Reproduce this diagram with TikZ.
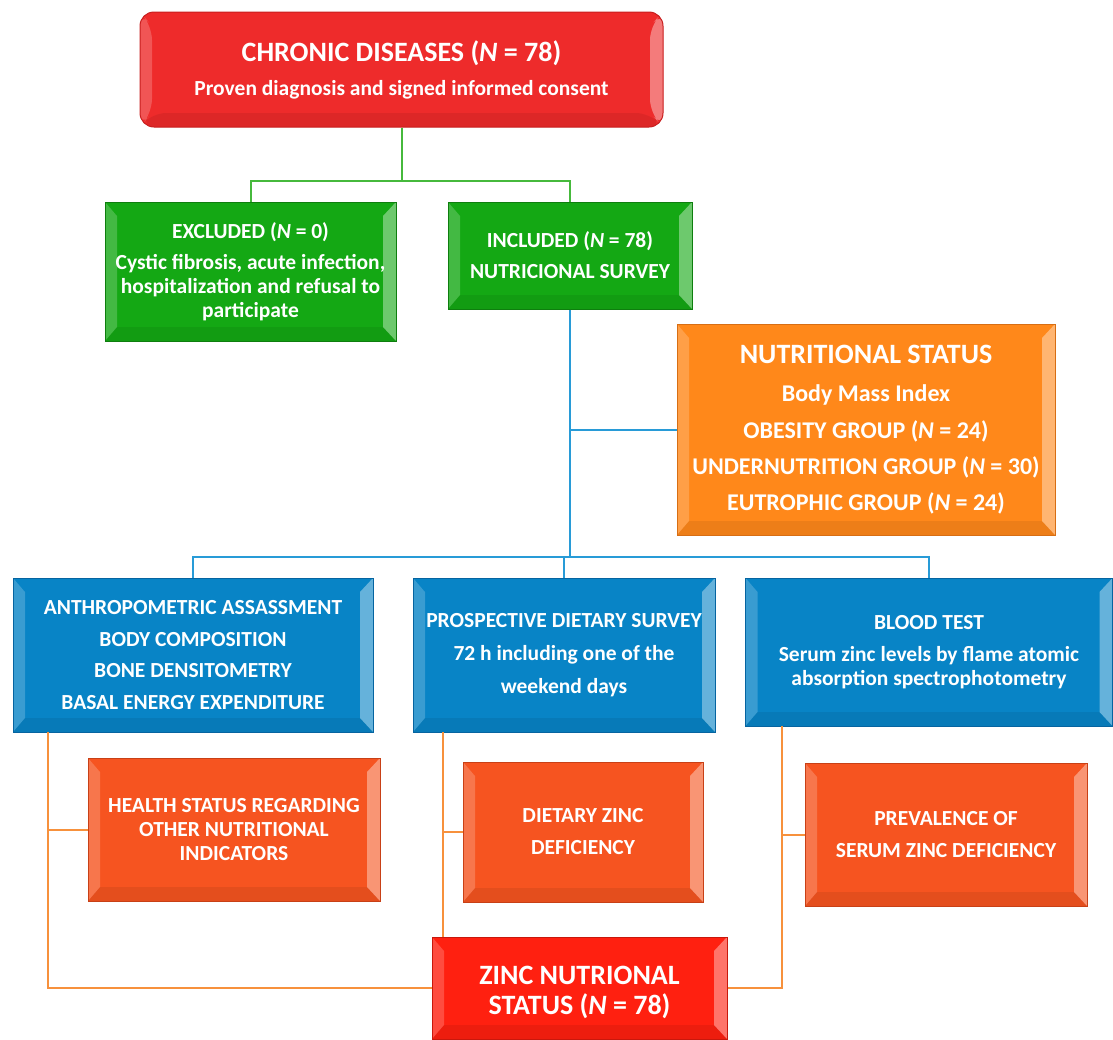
\documentclass[tikz,border=0pt]{standalone}
\usepackage{fontspec}
\setmainfont{Carlito}
\usetikzlibrary{calc}
\definecolor{topred}{RGB}{238,43,43}
\definecolor{topredd}{RGB}{200,30,30}
\definecolor{boxgreen}{RGB}{20,168,20}
\definecolor{boxgreend}{RGB}{14,126,14}
\definecolor{boxorange}{RGB}{255,136,26}
\definecolor{boxoranged}{RGB}{215,110,20}
\definecolor{boxblue}{RGB}{8,132,198}
\definecolor{boxblued}{RGB}{6,100,160}
\definecolor{boxro}{RGB}{246,84,32}
\definecolor{boxrod}{RGB}{200,64,22}
\definecolor{boxzinc}{RGB}{255,32,16}
\definecolor{boxzincd}{RGB}{200,24,12}
\definecolor{lgreen}{RGB}{70,185,60}
\definecolor{lblue}{RGB}{40,155,215}
\definecolor{lorange}{RGB}{247,145,60}
\newcommand{\fsz}[2]{\fontsize{#1}{#2}\selectfont}
\tikzset{
  bevel/.style={path picture={
    \fill[white,opacity=.2] (path picture bounding box.north west) -- ($(path picture bounding box.north west)+(12,14)$) -- ($(path picture bounding box.south west)+(12,-14)$) -- (path picture bounding box.south west) -- cycle;
    \fill[white,opacity=.38] (path picture bounding box.north east) -- ($(path picture bounding box.north east)+(-13,14)$) -- ($(path picture bounding box.south east)+(-13,-14)$) -- (path picture bounding box.south east) -- cycle;
    \fill[black,opacity=.07] (path picture bounding box.south west) -- ($(path picture bounding box.south west)+(12,-14)$) -- ($(path picture bounding box.south east)+(-13,-14)$) -- (path picture bounding box.south east) -- cycle;
  }},
  box/.style={draw, line width=1pt, text=white, font=\bfseries\fsz{21.5}{24}, align=center, inner sep=0pt, bevel},
  connector/.style={line width=2pt}
}
\begin{document}
\begin{tikzpicture}[x=1pt,y=-1pt]
\useasboundingbox (0,0) rectangle (1113,1039);
% boxes
\node[box, fill=topred, draw=topredd, rounded corners=14pt, minimum width=523pt, minimum height=115pt] (top) at (401.5,69.5)
  {{\fsz{28}{30}CHRONIC DISEASES (\textit{N} = 78)}\\[10pt]{\fsz{21.5}{24}Proven diagnosis and signed informed consent}};
\node[box, fill=boxgreen, draw=boxgreend, minimum width=291pt, minimum height=139pt] (excl) at (250.5,271.5)
  {EXCLUDED (\textit{N} = 0)\\[7pt]Cystic fibrosis, acute infection,\\hospitalization and refusal to\\participate};
\node[box, fill=boxgreen, draw=boxgreend, minimum width=244pt, minimum height=107pt] (incl) at (570,255.5)
  {INCLUDED (\textit{N} = 78)\\[7pt]NUTRICIONAL SURVEY};
\node[box, fill=boxorange, draw=boxoranged, font=\bfseries\fsz{24}{28}, minimum width=378pt, minimum height=211pt] (nutr) at (866,429.5)
  {{\fsz{28}{30}NUTRITIONAL STATUS}\\[10pt]Body Mass Index\\[9pt]OBESITY GROUP (\textit{N} = 24)\\[8pt]UNDERNUTRITION GROUP (\textit{N} = 30)\\[8pt]EUTROPHIC GROUP (\textit{N} = 24)};
\node[box, fill=boxblue, draw=boxblued, minimum width=360pt, minimum height=154pt] (anth) at (193,655)
  {ANTHROPOMETRIC ASSASSMENT\\[7.5pt]BODY COMPOSITION\\[7.5pt]BONE DENSITOMETRY\\[7.5pt]BASAL ENERGY EXPENDITURE};
\node[box, fill=boxblue, draw=boxblued, minimum width=302pt, minimum height=154pt] (diet) at (564,655)
  {PROSPECTIVE DIETARY SURVEY\\[9pt]72 h including one of the\\[9pt]weekend days};
\node[box, fill=boxblue, draw=boxblued, minimum width=367pt, minimum height=148pt] (blood) at (929,652)
  {BLOOD TEST\\[8pt]Serum zinc levels by flame atomic\\absorption spectrophotometry};
\node[box, fill=boxro, draw=boxrod, minimum width=292pt, minimum height=143pt] (health) at (234,829.5)
  {HEALTH STATUS REGARDING\\OTHER NUTRITIONAL\\INDICATORS};
\node[box, fill=boxro, draw=boxrod, minimum width=240pt, minimum height=140pt] (dzinc) at (583,832)
  {DIETARY ZINC\\[8pt]DEFICIENCY};
\node[box, fill=boxro, draw=boxrod, minimum width=282pt, minimum height=143pt] (prev) at (946,834.5)
  {PREVALENCE OF\\[8pt]SERUM ZINC DEFICIENCY};
\node[box, fill=boxzinc, draw=boxzincd, font=\bfseries\fsz{28}{30}, minimum width=295pt, minimum height=102pt] (zinc) at (579.5,988)
  {\parbox{280pt}{\centering\vspace*{8pt}ZINC NUTRIONAL\\STATUS (\textit{N} = 78)}};
% green connectors
\coordinate (gj) at (401.5,181);
\draw[connector, lgreen] (top.south) -- (gj);
\draw[connector, lgreen] (excl.north) |- (gj) -| (incl.north);
% blue connectors
\coordinate (bj) at (570,557);
\draw[connector, lblue] (incl.south) -- (bj);
\draw[connector, lblue] (nutr.west -| incl.south) -- (nutr.west);
\draw[connector, lblue] (anth.north) |- (bj) -| (blood.north);
\draw[connector, lblue] (diet.north) -- (diet.north |- bj);
% orange connectors
\coordinate (a1) at (48,732);
\coordinate (b1) at (443,732);
\coordinate (c1) at (782,726);
\draw[connector, lorange] (a1) |- (zinc.west);
\draw[connector, lorange] (health.west -| a1) -- (health.west);
\draw[connector, lorange] (b1) -- (b1 |- zinc.north);
\draw[connector, lorange] (dzinc.west -| b1) -- (dzinc.west);
\draw[connector, lorange] (c1) |- (zinc.east);
\draw[connector, lorange] (prev.west -| c1) -- (prev.west);
\end{tikzpicture}
\end{document}
